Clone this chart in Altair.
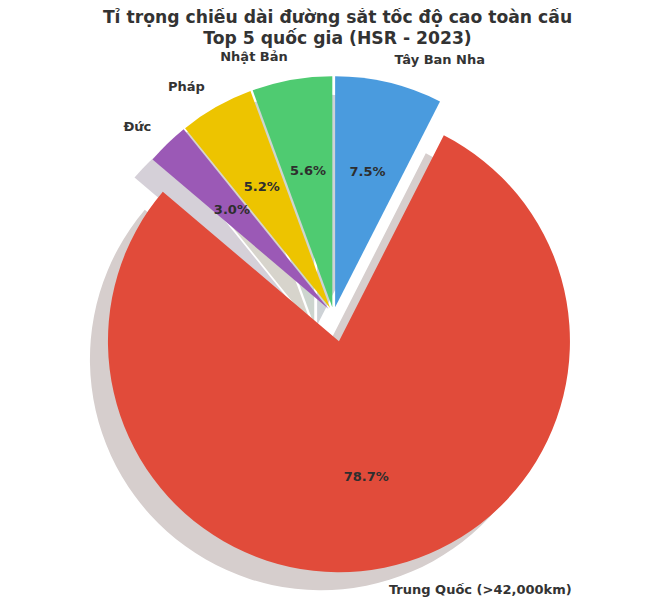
import math
import altair as alt
import pandas as pd

countries = ["Tây Ban Nha", "Trung Quốc", "Đức", "Pháp", "Nhật Bản"]
labels = ["Tây Ban Nha", "Trung Quốc (>42,000km)", "Đức", "Pháp", "Nhật Bản"]
shares = [7.5, 78.7, 3.0, 5.2, 5.6]
explode = [0.03, 0.12, 0.03, 0.03, 0.03]
colors = ["#4a9bde", "#e14b3a", "#9b59b6", "#edc400", "#4fcb71"]
shadow_colors = ["#cdd2d6", "#d6cecd", "#d5d0d8", "#d7d4cc", "#cdd5cf"]

title_lines = ["Tỉ trọng chiều dài đường sắt tốc độ cao toàn cầu",
               "Top 5 quốc gia (HSR - 2023)"]

# layout (pixels)
R = 231
W, H = 645, 527
CX, CY = 325.5, 258
SHADOW = 0.078  # shadow offset in radius units
PCT_DIST = 0.6
LABEL_DIST = 1.1

rows = []
cum = 0.0
for c, lab, s, e in zip(countries, labels, shares, explode):
    start, end = cum, cum + s
    cum = end
    mid = (start + end) / 2 / 100 * 2 * math.pi
    cx = e * math.sin(mid)
    cy = e * math.cos(mid)
    rows.append(dict(
        country=c, label=lab, share=s, pct=f"{s:.1f}%",
        start=start, end=end,
        cx=cx, cy=cy,
        sx=cx - SHADOW, sy=cy - SHADOW,
        px=cx + PCT_DIST * math.sin(mid), py=cy + PCT_DIST * math.cos(mid),
        lx=cx + LABEL_DIST * math.sin(mid), ly=cy + LABEL_DIST * math.cos(mid),
        side="right" if math.sin(mid) > 0 else "left",
    ))
df = pd.DataFrame(rows)

xs = alt.Scale(domain=[-CX / R, (W - CX) / R])
ys = alt.Scale(domain=[-(H - CY) / R, CY / R])
ts = alt.Scale(domain=[0, 100], range=[0, 2 * math.pi])

base = alt.Chart(df)

shadow = base.mark_arc(outerRadius=R).encode(
    x=alt.X("sx:Q", scale=xs, axis=None),
    y=alt.Y("sy:Q", scale=ys, axis=None),
    theta=alt.Theta("start:Q", scale=ts),
    theta2="end:Q",
    color=alt.Color("country:N", scale=alt.Scale(domain=countries, range=shadow_colors), legend=None),
)

main = base.mark_arc(outerRadius=R).encode(
    x=alt.X("cx:Q", scale=xs, axis=None),
    y=alt.Y("cy:Q", scale=ys, axis=None),
    theta=alt.Theta("start:Q", scale=ts),
    theta2="end:Q",
    color=alt.Color("country:N", scale=alt.Scale(domain=countries, range=colors), legend=None),
)

pct = base.mark_text(font="DejaVu Sans", fontWeight="bold", fontSize=13,
                     color="#2e2e2e", baseline="middle", align="center").encode(
    x=alt.X("px:Q", scale=xs, axis=None),
    y=alt.Y("py:Q", scale=ys, axis=None),
    text="pct:N",
)

lab_r = base.transform_filter(alt.datum.side == "right").mark_text(
    font="DejaVu Sans", fontWeight="bold", fontSize=13, color="#333333",
    baseline="middle", align="left").encode(
    x=alt.X("lx:Q", scale=xs, axis=None),
    y=alt.Y("ly:Q", scale=ys, axis=None),
    text="label:N",
)

lab_l = base.transform_filter(alt.datum.side == "left").mark_text(
    font="DejaVu Sans", fontWeight="bold", fontSize=13, color="#333333",
    baseline="middle", align="right").encode(
    x=alt.X("lx:Q", scale=xs, axis=None),
    y=alt.Y("ly:Q", scale=ys, axis=None),
    text="label:N",
)

chart = alt.layer(shadow, main, pct, lab_r, lab_l).resolve_scale(
    color="independent"
).properties(
    width=W, height=H,
    autosize="none",
    padding={"top": 48, "left": 0, "right": 0, "bottom": 16},
    title=alt.TitleParams(
        text=title_lines, font="DejaVu Sans", fontSize=17.2, fontWeight="bold",
        color="#333333", anchor="middle", lineHeight=21, baseline="bottom",
        offset=-14, dx=7,
    ),
).configure_view(stroke=None)

chart.save("out.html", embed_options={"renderer": "svg", "actions": False})
